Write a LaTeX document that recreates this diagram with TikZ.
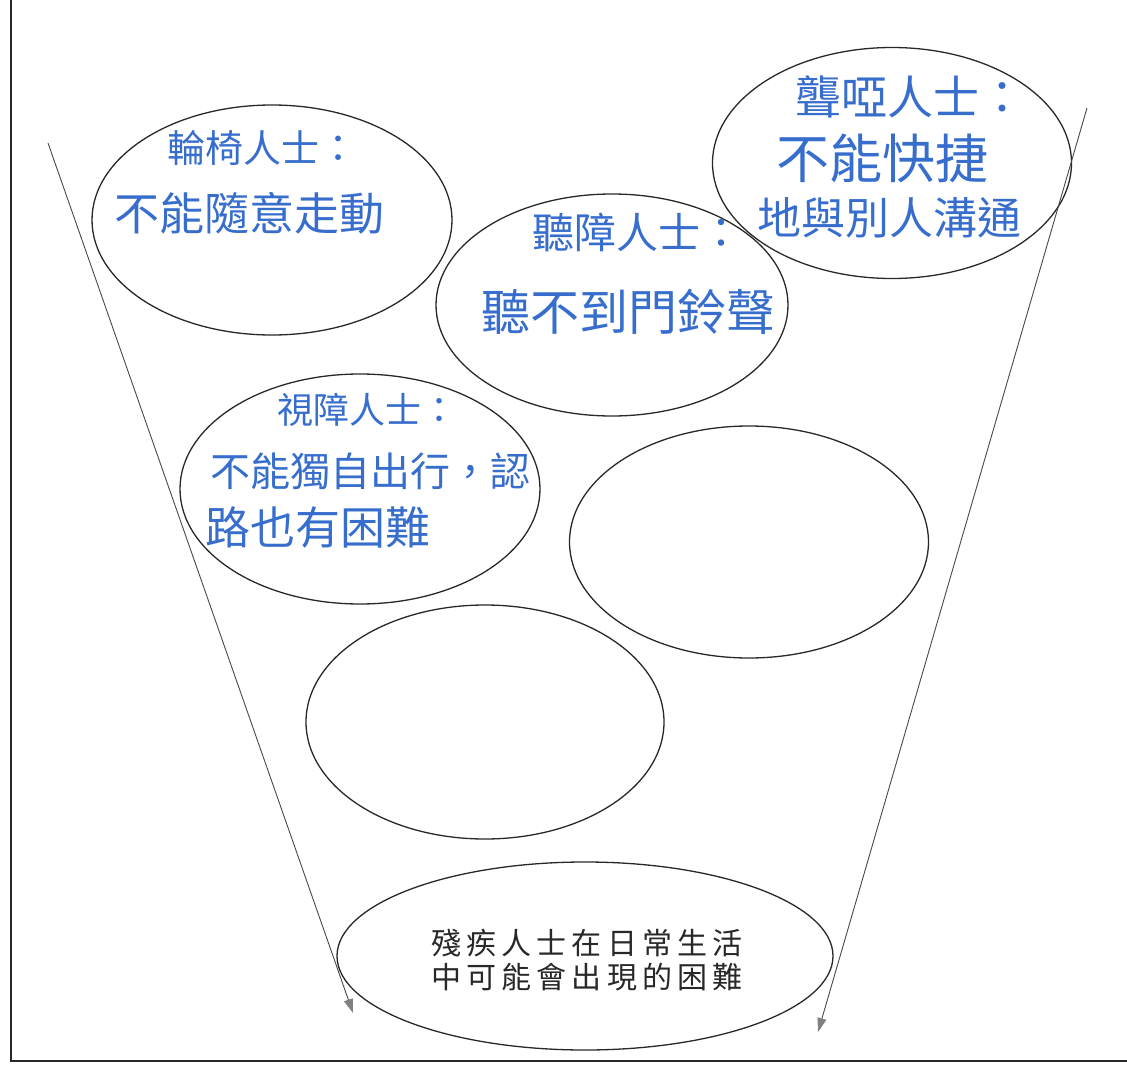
\documentclass[tikz,border=0pt]{standalone}
\usepackage{fontspec}
\usetikzlibrary{shapes.geometric,arrows.meta}
\newfontfamily\hand{Noto Sans CJK TC}
\newfontfamily\printcjk[LetterSpace=17]{Noto Sans CJK TC}
\definecolor{ink}{RGB}{55,110,205}
\definecolor{pen}{RGB}{40,40,40}
\tikzset{
  bubble/.style={draw=pen, line width=1.3pt, ellipse, inner sep=0pt},
  hw/.style={text=ink, inner sep=0pt},
  flow/.style={draw=pen!85, line width=0.9pt, -{Triangle[length=14pt,width=9pt,color=gray]}}
}
\newcommand{\fs}[1]{\hand\fontsize{#1}{#1}\selectfont}
\begin{document}
\begin{tikzpicture}[x=1pt,y=-1pt]
\useasboundingbox (0,0) rectangle (1127,1065);
% frame (left and bottom edges)
\draw[pen, line width=2pt] (11,0) -- (11,1061) -- (1127,1061);

% ellipses
\node[bubble, minimum width=360pt, minimum height=230pt] (wheel) at (272,220) {};
\node[bubble, minimum width=359pt, minimum height=231pt] (deaf)  at (892,163) {};
\node[bubble, minimum width=352pt, minimum height=222pt] (hear)  at (612,305) {};
\node[bubble, minimum width=360pt, minimum height=230pt] (vis)   at (360,489) {};
\node[bubble, minimum width=359pt, minimum height=232pt] (emptyA) at (749,542) {};
\node[bubble, minimum width=358pt, minimum height=234pt] (emptyB) at (485,722) {};
\node[bubble, minimum width=496pt, minimum height=188pt] (goal)  at (585,956) {};

% handwritten texts
\node[hw, font=\fs{38}] (wheelA) at (262,148) {輪椅人士：};
\node[hw, font=\fs{45}] (wheelB) at (249,213) {不能隨意走動};

\node[hw, font=\fs{42}] (hearA) at (637,232) {聽障人士：};
\node[hw, font=\fs{49}] (hearB) at (628,312) {聽不到門鈴聲};

\node[hw, font=\fs{36}] (visA) at (367,410) {視障人士：};
\node[hw, font=\fs{40}] (visB) at (370,471) {不能獨自出行，認};
\node[hw, font=\fs{45}, anchor=west] (visC) at (205,527) {路也有困難};

\node[hw, font=\fs{46}] (deafA) at (910,97) {聾啞人士：};
\node[hw, font=\fs{53}] (deafB) at (882,158) {不能快捷};
\node[hw, font=\fs{44}] (deafC) at (889,218) {地與別人溝通};

% printed text
\node[align=center, text=pen, inner sep=0pt,
      font=\printcjk\fontsize{30}{34}\selectfont] (goalT) at (587,960)
      {殘疾人士在日常生活\\中可能會出現的困難};

% funnel arrows
\coordinate (lS) at (48,143);
\coordinate (lE) at (353,1013);
\coordinate (rS) at (1087,108);
\coordinate (rE) at (818,1032);
\draw[flow] (lS) -- (lE);
\draw[flow] (rS) -- (rE);
\end{tikzpicture}
\end{document}
